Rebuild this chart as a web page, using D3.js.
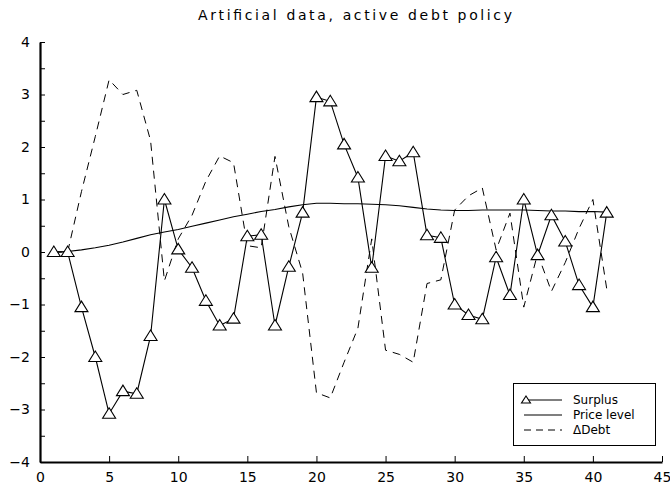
<!DOCTYPE html>
<html><head><meta charset="utf-8">
<script src="https://cdn.jsdelivr.net/npm/d3@7"></script>
<style>
html,body{margin:0;padding:0;background:#fff;}
svg{display:block;}
text{font-family:"DejaVu Sans",sans-serif;fill:#000;}
</style></head>
<body>
<svg id="chart" width="670" height="486"></svg>
<script>
const periods = d3.range(1, 42);
const surplus = [0, 0, -1.05, -2.0, -3.08, -2.65, -2.7, -1.6, 1.0, 0.05,
  -0.3, -0.93, -1.4, -1.27, 0.3, 0.33, -1.4, -0.28, 0.75, 2.95,
  2.87, 2.05, 1.42, -0.3, 1.83, 1.73, 1.9, 0.32, 0.27, -1.0,
  -1.2, -1.28, -0.1, -0.82, 1.0, -0.06, 0.7, 0.2, -0.63, -1.05, 0.75];
const priceLevel = [0, 0.01, 0.04, 0.08, 0.13, 0.19, 0.26, 0.33, 0.38, 0.43,
  0.49, 0.55, 0.61, 0.67, 0.72, 0.77, 0.81, 0.86, 0.9, 0.93,
  0.93, 0.92, 0.92, 0.91, 0.9, 0.88, 0.85, 0.82, 0.8, 0.79,
  0.79, 0.8, 0.8, 0.8, 0.8, 0.79, 0.78, 0.78, 0.77, 0.77, 0.76];
const deltaDebt = [0, 0, 1.15, 2.2, 3.28, 3.0, 3.08, 2.12, -0.55, 0.25,
  0.7, 1.35, 1.83, 1.7, 0.12, 0.08, 1.82, 0.48, -0.4, -2.68,
  -2.78, -2.1, -1.45, 0.25, -1.87, -1.95, -2.1, -0.6, -0.53, 0.8,
  1.07, 1.22, 0.04, 0.74, -1.05, -0.03, -0.75, -0.2, 0.45, 1.0, -0.7];
const xTicks = [0, 5, 10, 15, 20, 25, 30, 35, 40, 45];
const yTicks = d3.range(-4, 4.01, 0.5);
const title = "Artificial data, active debt policy";
const legendLabels = ["Surplus", "Price level", "\u0394Debt"];

const svg = d3.select("#chart");
const x = d3.scaleLinear().domain([0, 45]).range([40, 662]);
const y = d3.scaleLinear().domain([-4, 4]).range([462, 42]);

svg.append("text").attr("x", 355).attr("y", 20).attr("text-anchor", "middle")
  .attr("font-size", 14).attr("textLength", 314).attr("lengthAdjust", "spacing")
  .text(title);

const fmtY = d => Number.isInteger(d) ? (d < 0 ? "\u2212" + (-d) : String(d)) : "";

const xa = svg.append("g").attr("transform", `translate(0,${y(-4)})`)
  .call(d3.axisBottom(x).tickValues(xTicks).tickSizeInner(-6).tickSizeOuter(0).tickPadding(9));
const ya = svg.append("g").attr("transform", `translate(${x(0)},0)`)
  .call(d3.axisLeft(y).tickValues(yTicks).tickFormat(fmtY).tickSizeInner(-5).tickSizeOuter(0).tickPadding(10));
[xa, ya].forEach(a => {
  a.select(".domain").attr("stroke", "#000").attr("stroke-width", 2.2);
  a.selectAll(".tick line").attr("stroke", "#000").attr("stroke-width", 1);
  a.selectAll(".tick text").attr("font-size", 14).attr("font-family", "DejaVu Sans, sans-serif");
});
xa.selectAll(".tick text").attr("dy", "0.75em");

const line = (vals) => d3.line().x((d, i) => x(periods[i])).y(d => y(d))(vals);

svg.append("path").attr("d", line(deltaDebt)).attr("fill", "none")
  .attr("stroke", "#000").attr("stroke-width", 1).attr("stroke-dasharray", "8,6");
svg.append("path").attr("d", line(priceLevel)).attr("fill", "none")
  .attr("stroke", "#000").attr("stroke-width", 1.1);
svg.append("path").attr("d", line(surplus)).attr("fill", "none")
  .attr("stroke", "#000").attr("stroke-width", 1.1);

const tri = "M0,-6L6.5,4.5L-6.5,4.5Z";
svg.append("g").selectAll("path").data(surplus).join("path")
  .attr("transform", (d, i) => `translate(${x(periods[i])},${y(d)})`)
  .attr("d", tri).attr("fill", "#fff").attr("stroke", "#000").attr("stroke-width", 1.1);

// legend
const lg = svg.append("g");
lg.append("rect").attr("x", 513.5).attr("y", 383.5).attr("width", 142).attr("height", 62)
  .attr("fill", "#fff").attr("stroke", "#000").attr("stroke-width", 1);
const rowsY = [400, 415, 430];
const styles = [{dash: null, w: 1.1}, {dash: null, w: 1.1}, {dash: "7,5", w: 1}];
legendLabels.forEach((lab, i) => {
  lg.append("line").attr("x1", 524).attr("x2", 562).attr("y1", rowsY[i]).attr("y2", rowsY[i])
    .attr("stroke", "#000").attr("stroke-width", styles[i].w)
    .attr("stroke-dasharray", styles[i].dash);
  lg.append("text").attr("x", 573).attr("y", rowsY[i]).attr("dy", "0.35em")
    .attr("font-size", 12).text(lab);
});
lg.append("path").attr("transform", `translate(526,${rowsY[0]})`)
  .attr("d", "M0,-4L4.5,3L-4.5,3Z").attr("fill", "#fff").attr("stroke", "#000").attr("stroke-width", 1.1);
</script>
</body></html>
